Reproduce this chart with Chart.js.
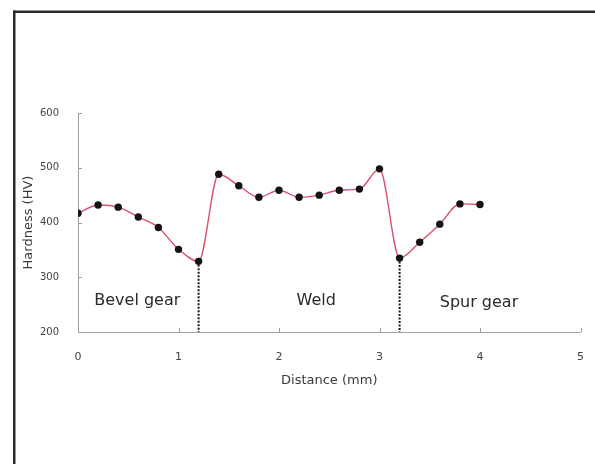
<!DOCTYPE html>
<html>
<head>
<meta charset="utf-8">
<script src="https://cdn.jsdelivr.net/npm/chart.js@4/dist/chart.umd.min.js"></script>
<style>
  html, body { margin: 0; padding: 0; background: #fff; overflow: hidden; }
  #wrap { width: 595px; height: 464px; position: relative; }
</style>
</head>
<body>
<div id="wrap"><canvas id="c" width="595" height="464"></canvas></div>
<script>
// Hardness traverse across the bevel gear / weld / spur gear joint
const distance = [0, 0.2, 0.4, 0.6, 0.8, 1.0, 1.2, 1.4, 1.6, 1.8, 2.0, 2.2, 2.4, 2.6, 2.8, 3.0, 3.2, 3.4, 3.6, 3.8, 4.0];
const hardness = [417, 432, 428, 410, 391, 351, 329, 488, 467, 446, 459, 446, 450, 459, 461, 498, 335, 364, 397, 434, 433];

// Zone boundaries (mm) and zone names
const boundaries = [1.2, 3.2];
const zoneNames = ['Bevel gear', 'Weld', 'Spur gear'];

// Axis ticks
const xTicks = [0, 1, 2, 3, 4, 5];
const yTicks = [200, 300, 400, 500, 600];

const FONT = '"DejaVu Sans", "Liberation Sans", Arial, sans-serif';

const profile = {
  data: distance.map((d, i) => ({ x: d, y: hardness[i] })),
  borderColor: '#d9536b',
  borderWidth: 1.4,
  cubicInterpolationMode: 'monotone',
  pointRadius: 3.7,
  pointHoverRadius: 3.7,
  pointBackgroundColor: '#141414',
  pointBorderColor: '#141414',
  pointBorderWidth: 0
};

const dividers = boundaries.map(b => ({
  data: [{ x: b, y: hardness[distance.indexOf(b)] }, { x: b, y: yTicks[0] }],
  borderColor: '#151515',
  borderWidth: 2,
  borderDash: [2, 1.5],
  pointRadius: 0,
  tension: 0
}));

// Inward tick marks, zone captions and the outer frame
const decor = {
  id: 'decor',
  beforeDraw(chart) {
    const ctx = chart.ctx;
    ctx.save();
    ctx.fillStyle = '#ffffff';
    ctx.fillRect(0, 0, chart.width, chart.height);
    ctx.restore();
  },
  afterDraw(chart, args, opts) {
    const { ctx, scales: { x, y } } = chart;
    ctx.save();
    ctx.strokeStyle = '#a0a0a0';
    ctx.lineWidth = 1;
    ctx.beginPath();
    xTicks.slice(1).forEach(v => {
      const px = Math.round(x.getPixelForValue(v)) + 0.5;
      ctx.moveTo(px, y.bottom);
      ctx.lineTo(px, y.bottom - 4);
    });
    yTicks.slice(1).forEach(v => {
      const py = Math.round(y.getPixelForValue(v)) + 0.5;
      ctx.moveTo(x.left, py);
      ctx.lineTo(x.left + 4, py);
    });
    ctx.stroke();

    ctx.font = '16px ' + FONT;
    ctx.fillStyle = '#2a2a2a';
    ctx.textAlign = 'center';
    ctx.textBaseline = 'middle';
    zoneNames.forEach((name, i) => {
      const a = opts.anchors[i];
      ctx.fillText(name, x.getPixelForValue(a[0]), y.getPixelForValue(a[1]));
    });

    ctx.fillStyle = '#2b2b2b';
    ctx.fillRect(13, 10.5, 2.5, chart.height);
    ctx.fillRect(13, 10.5, chart.width, 2.5);
    ctx.restore();
  }
};

new Chart(document.getElementById('c'), {
  type: 'line',
  data: { datasets: [profile, ...dividers] },
  plugins: [decor],
  options: {
    responsive: false,
    animation: false,
    devicePixelRatio: 1,
    layout: { padding: { left: 18, right: 11, top: 113, bottom: 72 } },
    plugins: {
      legend: { display: false },
      tooltip: { enabled: false },
      decor: { anchors: [[0.59, 257], [2.37, 256], [3.99, 254]] }
    },
    scales: {
      x: {
        type: 'linear',
        min: 0,
        max: 5,
        afterBuildTicks: s => { s.ticks = xTicks.map(v => ({ value: v })); },
        afterFit: s => { s.height = 60; },
        grid: { display: false },
        border: { display: true, color: '#a0a0a0', width: 1 },
        ticks: { padding: 11, maxRotation: 0, color: '#444', font: { family: FONT, size: 11 } },
        title: {
          display: true,
          text: 'Distance (mm)',
          color: '#3a3a3a',
          font: { family: FONT, size: 13 },
          padding: { top: 0, bottom: 4 }
        }
      },
      y: {
        min: 200,
        max: 600,
        afterBuildTicks: s => { s.ticks = yTicks.map(v => ({ value: v })); },
        afterFit: s => { s.width = 60; },
        grid: { display: false },
        border: { display: true, color: '#a0a0a0', width: 1 },
        ticks: { padding: 11, color: '#444', font: { family: FONT, size: 10 } },
        title: {
          display: true,
          text: 'Hardness (HV)',
          color: '#3a3a3a',
          font: { family: FONT, size: 13 },
          padding: { top: 3, bottom: 0 }
        }
      }
    }
  }
});
</script>
</body>
</html>
